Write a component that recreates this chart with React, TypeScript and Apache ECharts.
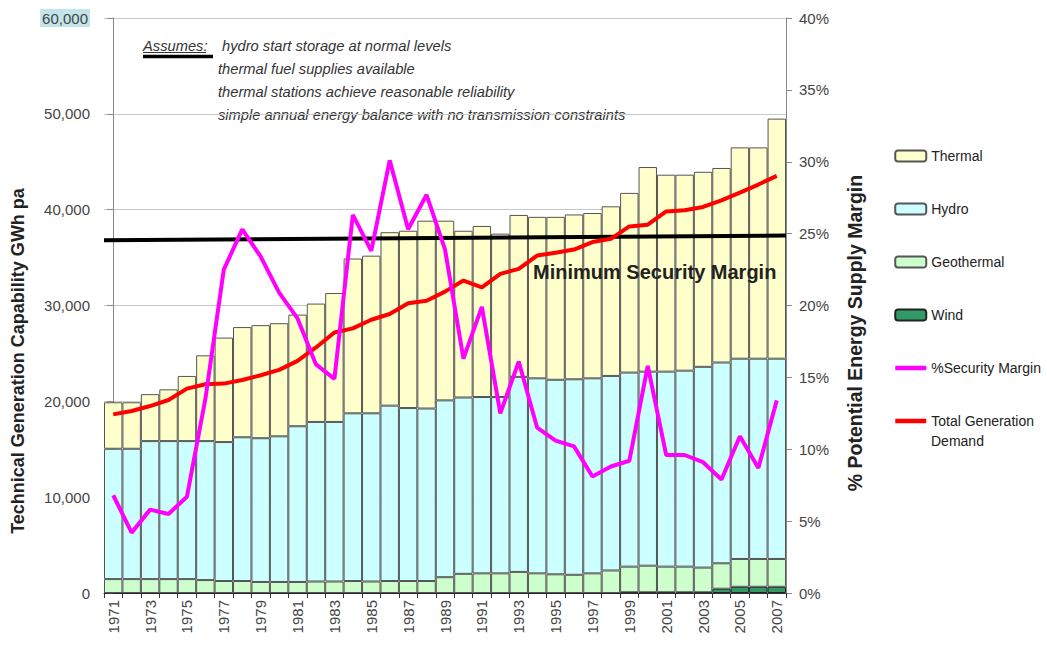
import React, { useEffect, useRef } from "react";
import * as echarts from "echarts";

const years = [
  "1971", "1972", "1973", "1974", "1975", "1976", "1977", "1978", "1979", "1980",
  "1981", "1982", "1983", "1984", "1985", "1986", "1987", "1988", "1989", "1990",
  "1991", "1992", "1993", "1994", "1995", "1996", "1997", "1998", "1999", "2000",
  "2001", "2002", "2003", "2004", "2005", "2006", "2007",
];

// GWh pa, stacked segments (bottom to top: wind, geothermal, hydro, thermal)
const wind = [
  0, 0, 0, 0, 0, 0, 0, 0, 0, 0,
  0, 0, 0, 0, 0, 0, 0, 0, 0, 0,
  0, 0, 0, 0, 0, 0, 0, 0, 80, 80,
  80, 80, 80, 450, 650, 650, 650,
];
const geothermal = [
  1450, 1450, 1450, 1450, 1450, 1350, 1250, 1250, 1150, 1150,
  1150, 1200, 1200, 1250, 1200, 1250, 1250, 1250, 1650, 2000,
  2050, 2050, 2200, 2050, 1950, 1900, 2050, 2350, 2670, 2770,
  2670, 2670, 2570, 2650, 2900, 2900, 2900,
];
const hydro = [
  13600, 13600, 14400, 14400, 14400, 14500, 14500, 15000, 15000, 15200,
  16250, 16650, 16650, 17500, 17550, 18300, 18050, 18000, 18450, 18400,
  18400, 18400, 20350, 20350, 20300, 20400, 20350, 20300, 20250, 20250,
  20350, 20450, 20950, 20950, 20900, 20900, 20900,
];
const thermal = [
  4850, 4850, 4900, 5400, 6800, 8950, 10900, 11500, 11800, 11800,
  11650, 12350, 13450, 16150, 16450, 18100, 18500, 19600, 18750, 17400,
  17850, 17050, 16900, 16850, 17000, 17200, 17250, 17700, 18750, 21350,
  20550, 20450, 20350, 20300, 22050, 22050, 25050,
];
const demand = [
  18640, 18990, 19510, 20140, 21330, 21780, 21850, 22230, 22720, 23280,
  24220, 25620, 27190, 27610, 28510, 29110, 30230, 30500, 31450, 32600,
  31900, 33300, 33820, 35210, 35500, 35840, 36620, 36960, 38250, 38430,
  39820, 39930, 40280, 40970, 41780, 42620, 43530,
];
// % potential energy supply margin
const securityMargin = [
  6.8, 4.2, 5.8, 5.5, 6.7, 13.5, 22.5, 25.3, 23.4, 20.9,
  19.1, 15.9, 14.9, 26.3, 23.8, 30.1, 25.3, 27.7, 23.9, 16.3,
  19.9, 12.5, 16.1, 11.5, 10.6, 10.2, 8.1, 8.8, 9.2, 15.8,
  9.6, 9.6, 9.1, 7.9, 10.9, 8.7, 13.4,
];
// minimum security margin line (GWh pa at left and right edge)
const minMarginLine = [36800, 37300];

const assumptions = [
  "hydro start storage at normal levels",
  "thermal fuel supplies available",
  "thermal stations achieve reasonable reliability",
  "simple annual energy balance with no transmission constraints",
];

const FONT = "'Liberation Sans', Arial, sans-serif";

export default function App() {
  const ref = useRef<HTMLDivElement>(null);

  useEffect(() => {
    if (!ref.current) return;
    const chart = echarts.init(ref.current, undefined, { renderer: "svg" });
    const border = "#555";
    const n = years.length;
    const hiddenSymbol = { color: "rgba(0,0,0,0)", borderColor: "rgba(0,0,0,0)", borderWidth: 0, opacity: 0 };

    const assumptionTexts = assumptions.map((t, i) => ({
      type: "text",
      x: i === 0 ? 222 : 218,
      y: [46, 69, 92, 115][i],
      style: {
        text: t,
        font: `italic 14.7px ${FONT}`,
        fill: "#333",
        verticalAlign: "middle",
        align: "left",
      },
      silent: true,
    }));

    chart.setOption({
      animation: false,
      backgroundColor: "#ffffff",
      textStyle: { fontFamily: FONT },
      grid: { left: 104, right: 261, top: 18, bottom: 55, containLabel: false },
      legend: {
        orient: "vertical",
        left: 893,
        top: 149,
        padding: 0,
        itemWidth: 31,
        itemHeight: 11,
        itemGap: 39,
        textStyle: { fontSize: 14, color: "#222", fontFamily: FONT },
        data: [
          { name: "Thermal" },
          { name: "Hydro" },
          { name: "Geothermal" },
          { name: "Wind" },
          { name: "%Security Margin", itemStyle: hiddenSymbol, lineStyle: { width: 4.5, color: "#ff00ff" } },
          { name: "Total Generation Demand", itemStyle: hiddenSymbol, lineStyle: { width: 4.5, color: "#ff0000" } },
        ],
        formatter: (name: string) =>
          name === "Total Generation Demand" ? "Total Generation" : name,
      },
      xAxis: [
        {
          type: "category",
          data: years,
          boundaryGap: true,
          axisLine: { lineStyle: { color: "#333", width: 1 } },
          axisTick: { show: true, interval: 0, length: 5, lineStyle: { color: "#333" } },
          axisLabel: {
            interval: 1,
            rotate: 90,
            margin: 7,
            fontSize: 15,
            color: "#444",
            fontFamily: FONT,
          },
          splitLine: { show: false },
        },
        {
          type: "value",
          min: -0.5,
          max: n - 0.5,
          show: false,
        },
      ],
      yAxis: [
        {
          type: "value",
          min: 0,
          max: 60000,
          interval: 10000,
          position: "left",
          axisLine: { show: true, lineStyle: { color: "#888" } },
          axisTick: { show: true, length: 6, lineStyle: { color: "#888" } },
          axisLabel: {
            margin: 14,
            fontSize: 15,
            color: "#444",
            fontFamily: FONT,
            formatter: (v: number) => {
              const s = v.toLocaleString("en-US");
              return v === 60000 ? `{hl|${s}}` : s;
            },
            rich: {
              hl: {
                backgroundColor: "#c3e4ea",
                padding: [2, 2, 1, 2],
                fontSize: 15,
                color: "#444",
                fontFamily: FONT,
              },
            },
          },
          splitLine: { show: true, lineStyle: { color: "#c8c8c8", width: 1 } },
        },
        {
          type: "value",
          min: 0,
          max: 40,
          interval: 5,
          position: "right",
          axisLine: { show: true, lineStyle: { color: "#888" } },
          axisTick: { show: true, length: 6, lineStyle: { color: "#888" } },
          axisLabel: {
            margin: 13,
            fontSize: 15,
            color: "#444",
            fontFamily: FONT,
            formatter: "{value}%",
          },
          splitLine: { show: false },
        },
      ],
      series: [
        {
          name: "Wind",
          type: "bar",
          stack: "gen",
          barCategoryGap: "0%",
          data: wind,
          itemStyle: { color: "#339966", borderColor: "#222", borderWidth: 1 },
        },
        {
          name: "Geothermal",
          type: "bar",
          stack: "gen",
          barCategoryGap: "0%",
          data: geothermal,
          itemStyle: { color: "#ccffcc", borderColor: border, borderWidth: 1 },
        },
        {
          name: "Hydro",
          type: "bar",
          stack: "gen",
          barCategoryGap: "0%",
          data: hydro,
          itemStyle: { color: "#ccffff", borderColor: border, borderWidth: 1 },
        },
        {
          name: "Thermal",
          type: "bar",
          stack: "gen",
          barCategoryGap: "0%",
          data: thermal,
          itemStyle: { color: "#ffffcc", borderColor: border, borderWidth: 1 },
        },
        {
          name: "Minimum Security Margin",
          type: "line",
          xAxisIndex: 1,
          yAxisIndex: 0,
          data: [
            [-0.5, minMarginLine[0]],
            [n - 0.5, minMarginLine[1]],
          ],
          symbol: "none",
          lineStyle: { color: "#000", width: 4 },
          z: 3,
        },
        {
          name: "Total Generation Demand",
          type: "line",
          data: demand,
          symbol: "none",
          lineStyle: { color: "#ff0000", width: 4 },
          itemStyle: { color: "#ff0000" },
          z: 4,
        },
        {
          name: "%Security Margin",
          type: "line",
          yAxisIndex: 1,
          data: securityMargin,
          symbol: "none",
          lineStyle: { color: "#ff00ff", width: 4 },
          itemStyle: { color: "#ff00ff" },
          z: 5,
        },
      ],
      graphic: [
        {
          type: "text",
          x: 143,
          y: 46,
          style: {
            text: "Assumes:",
            font: `italic 14.7px ${FONT}`,
            fill: "#333",
            verticalAlign: "middle",
            align: "left",
          },
          silent: true,
        },
        {
          type: "line",
          shape: { x1: 143, y1: 52.5, x2: 206, y2: 52.5 },
          style: { stroke: "#333", lineWidth: 1 },
          silent: true,
        },
        {
          type: "line",
          shape: { x1: 143, y1: 56.5, x2: 213, y2: 56.5 },
          style: { stroke: "#000", lineWidth: 3.5 },
          silent: true,
        },
        ...assumptionTexts,
        {
          type: "text",
          x: 533,
          y: 272,
          z: 10,
          style: {
            text: "Minimum Security Margin",
            font: `bold 20px ${FONT}`,
            fill: "#222",
            verticalAlign: "middle",
            align: "left",
          },
          silent: true,
        },
        {
          type: "text",
          x: 931,
          y: 441,
          style: {
            text: "Demand",
            font: `14px ${FONT}`,
            fill: "#222",
            verticalAlign: "middle",
            align: "left",
          },
          silent: true,
        },
        {
          type: "text",
          x: 18,
          y: 361,
          rotation: Math.PI / 2,
          style: {
            text: "Technical Generation Capability GWh pa",
            font: `bold 18px ${FONT}`,
            fill: "#222",
            align: "center",
            verticalAlign: "middle",
          },
          silent: true,
        },
        {
          type: "text",
          x: 855,
          y: 333,
          rotation: Math.PI / 2,
          style: {
            text: "% Potential Energy Supply Margin",
            font: `bold 19.5px ${FONT}`,
            fill: "#222",
            align: "center",
            verticalAlign: "middle",
          },
          silent: true,
        },
      ],
    });

    return () => chart.dispose();
  }, []);

  return (
    <div
      ref={ref}
      style={{ position: "absolute", left: 0, top: 0, width: 1047, height: 648 }}
    />
  );
}
